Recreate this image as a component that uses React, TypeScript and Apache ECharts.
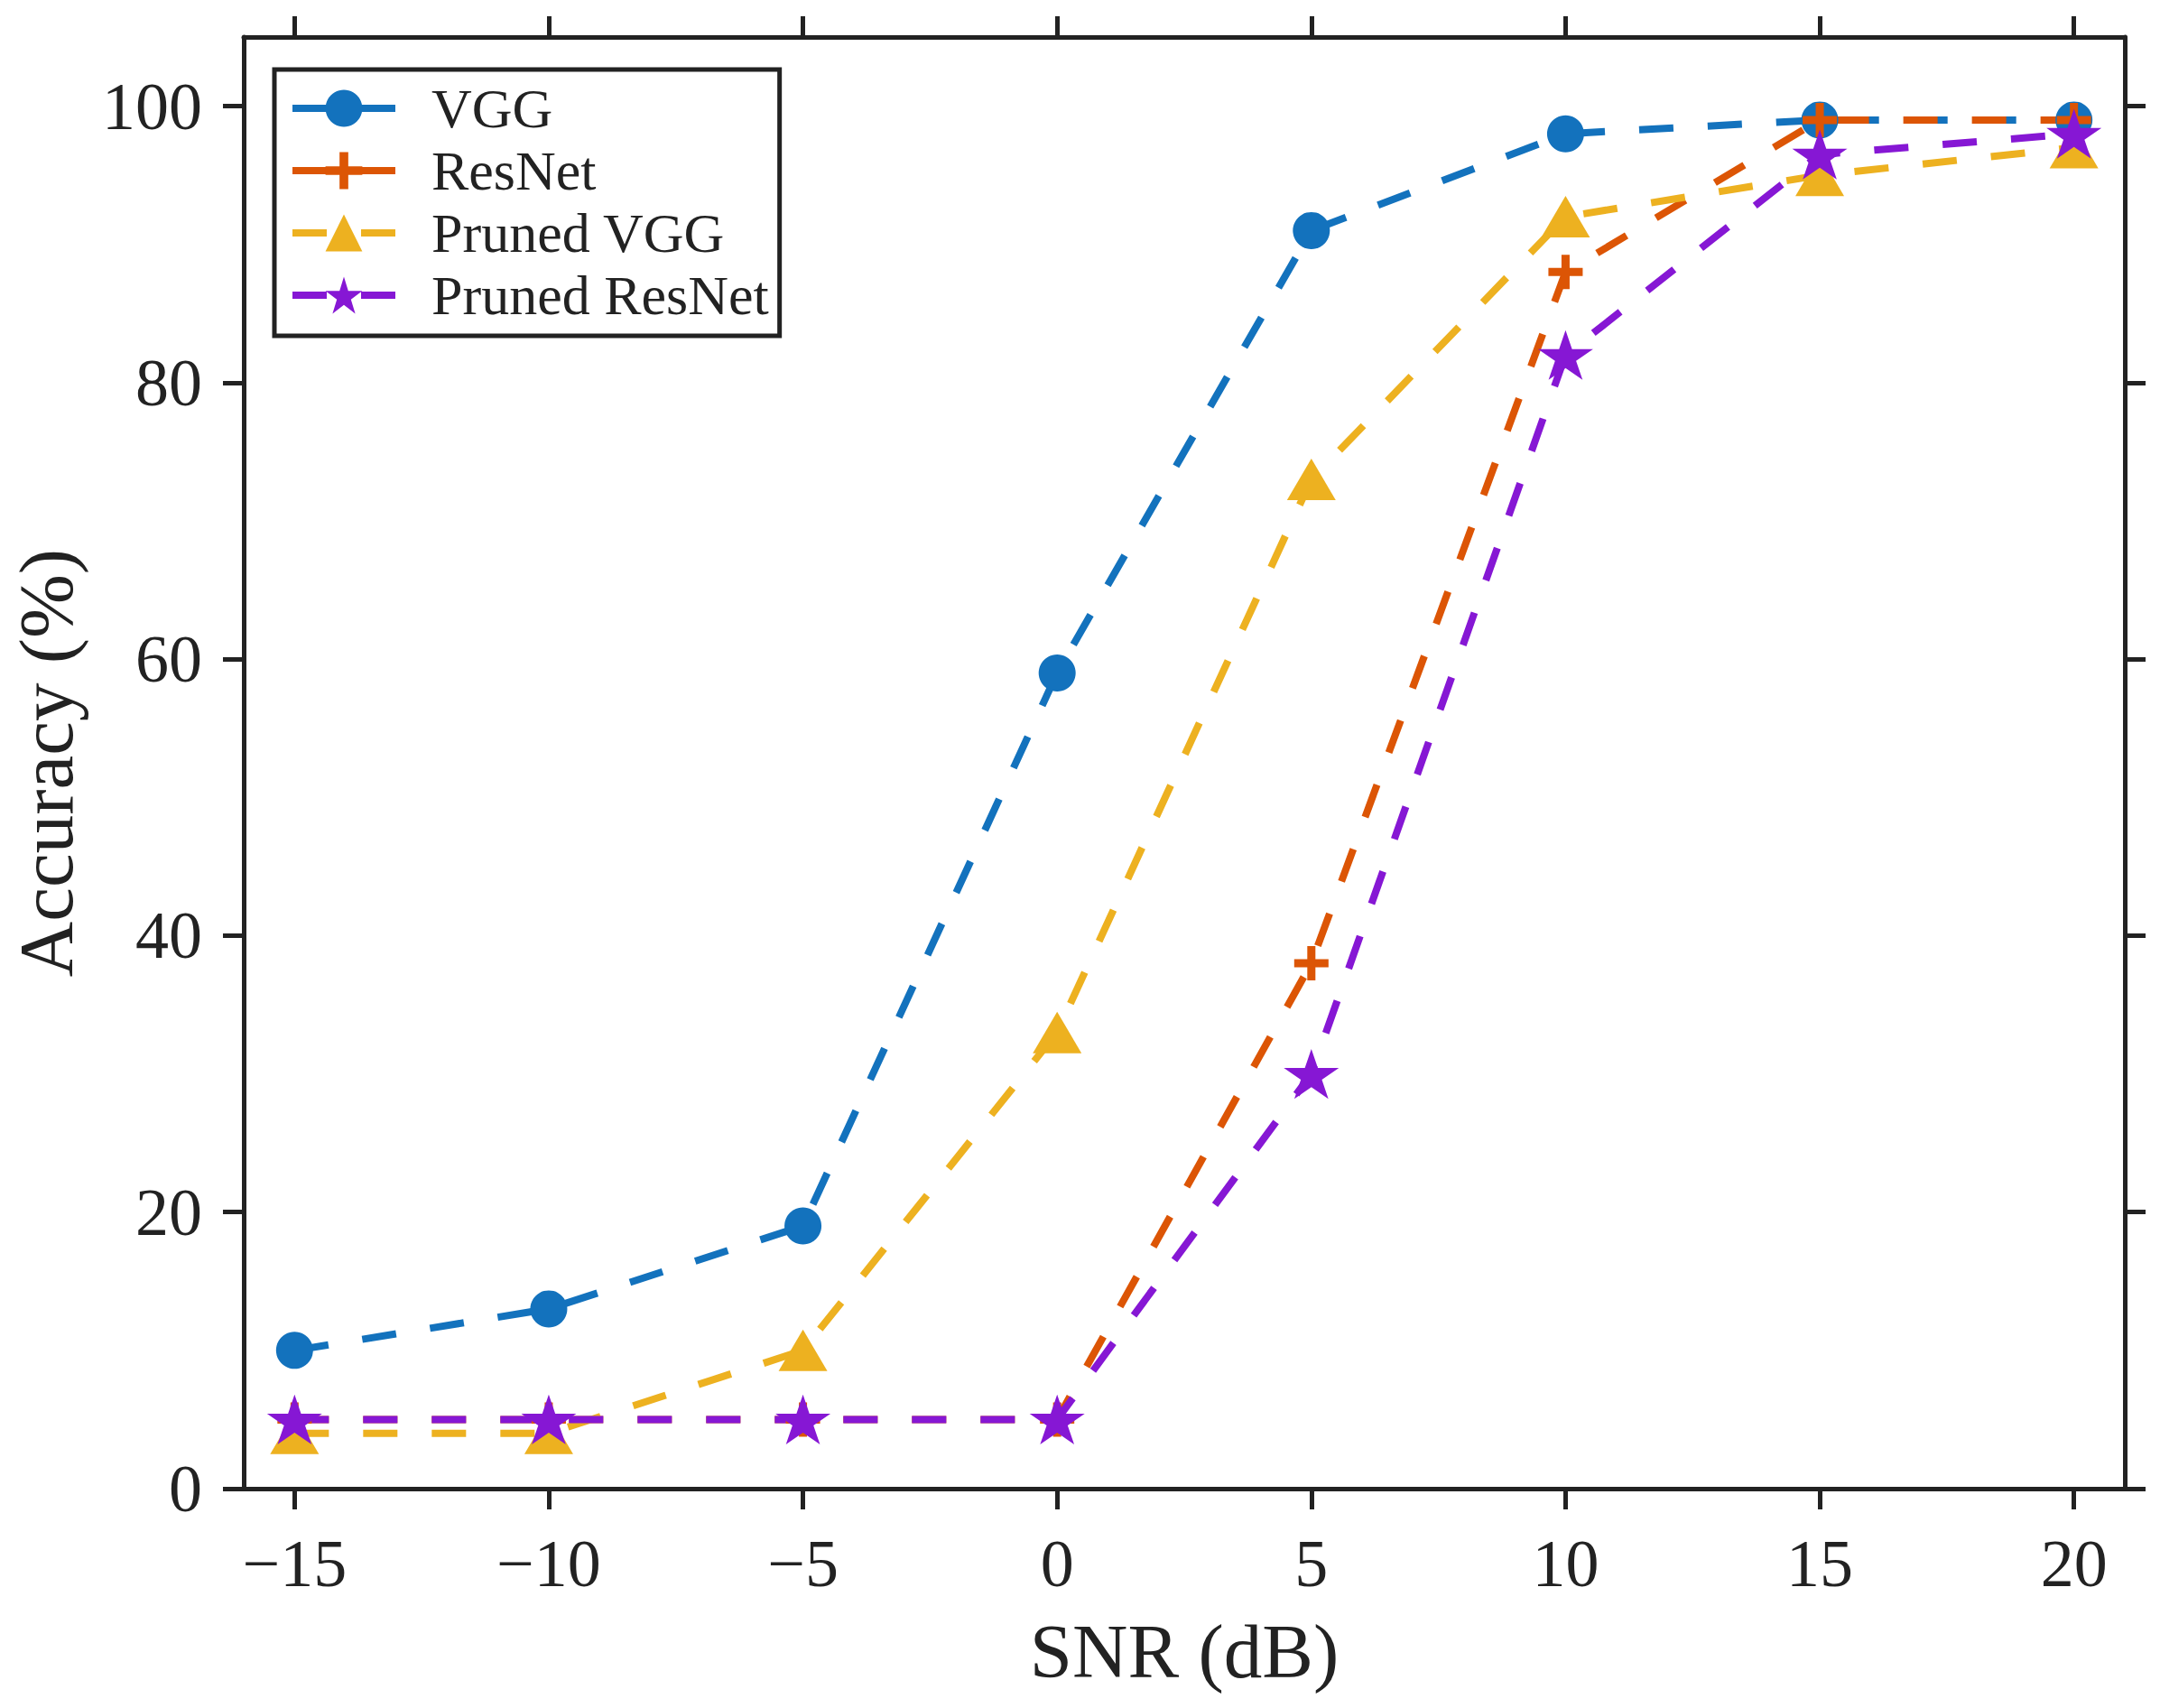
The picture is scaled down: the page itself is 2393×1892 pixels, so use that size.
import * as echarts from "echarts";
import { useEffect, useRef } from "react";

const snr = [-15, -10, -5, 0, 5, 10, 15, 20];
const vgg = [10, 13, 19, 59, 91, 98, 99, 99];
const resnet = [5, 5, 5, 5, 38, 88, 99, 99];
const prunedVgg = [4, 4, 10, 33, 73, 92, 95, 97];
const prunedResnet = [5, 5, 5, 5, 30, 82, 96.5, 98];

const seriesNames = ["VGG", "ResNet", "Pruned VGG", "Pruned ResNet"];
const xTicks = [-15, -10, -5, 0, 5, 10, 15, 20];
const yTicks = [0, 20, 40, 60, 80, 100];

const FONT = "Liberation Serif";
const INK = "#222222";

const plusPath = "path://M14.5,0H23.5V14.5H38V23.5H23.5V38H14.5V23.5H0V14.5H14.5Z";
const starPath =
  "path://M0,-100L22.45,-30.9L95.11,-30.9L36.33,11.8L58.78,80.9L0,38.2L-58.78,80.9L-36.33,11.8L-95.11,-30.9L-22.45,-30.9Z";

const pairs = (ys: number[]) => snr.map((x, i) => [x, ys[i]]);

const mkSeries = (
  name: string,
  ys: number[],
  color: string,
  symbol: string,
  symbolSize: number | number[]
) => ({
  name,
  type: "line",
  data: pairs(ys),
  symbol,
  symbolSize,
  symbolKeepAspect: true,
  showAllSymbol: true,
  color,
  itemStyle: { color, borderWidth: 0 },
  lineStyle: { color, width: 8, type: [38, 38], cap: "butt" },
  emphasis: { disabled: true },
});

const axisCommon = {
  axisLine: { show: true, onZero: false, lineStyle: { color: INK, width: 5 } },
  splitLine: { show: false },
};

const tickStyle = (values: number[]) => ({
  show: true,
  inside: false,
  length: 23,
  customValues: values,
  lineStyle: { color: INK, width: 5 },
});

export default function App() {
  const ref = useRef<HTMLDivElement | null>(null);

  useEffect(() => {
    if (!ref.current) return;
    const chart = echarts.init(ref.current, undefined, { renderer: "svg" });
    chart.setOption({
      animation: false,
      backgroundColor: "#ffffff",
      grid: { left: 269, right: 39, top: 41, bottom: 243, containLabel: false },
      legend: {
        orient: "vertical",
        left: 304,
        top: 77,
        selectedMode: false,
        data: seriesNames,
        backgroundColor: "#ffffff",
        borderColor: INK,
        borderWidth: 5,
        borderRadius: 0,
        padding: [12, 12, 14, 16],
        itemWidth: 114,
        itemHeight: 51,
        itemGap: 7,
        lineStyle: { width: 8, type: [38, 38], cap: "butt" },
        textStyle: {
          fontFamily: FONT,
          fontSize: 62,
          color: INK,
          padding: [0, 0, 0, 35],
        },
      },
      xAxis: [
        {
          ...axisCommon,
          type: "value",
          min: -16,
          max: 21,
          position: "bottom",
          name: "SNR (dB)",
          nameLocation: "middle",
          nameGap: 137,
          nameTextStyle: { fontFamily: FONT, fontSize: 85, color: INK },
          axisTick: tickStyle(xTicks),
          axisLabel: {
            show: true,
            customValues: xTicks,
            margin: 46,
            fontFamily: FONT,
            fontSize: 74,
            color: INK,
            formatter: (v: number) => String(v).replace("-", "\u2212"),
          },
        },
        {
          ...axisCommon,
          type: "value",
          min: -16,
          max: 21,
          position: "top",
          axisTick: tickStyle(xTicks),
          axisLabel: { show: false },
        },
      ],
      yAxis: [
        {
          ...axisCommon,
          type: "value",
          min: 0,
          max: 105,
          position: "left",
          name: "Accuracy (%)",
          nameLocation: "middle",
          nameGap: 177,
          nameRotate: 90,
          nameTextStyle: { fontFamily: FONT, fontSize: 85, color: INK },
          axisTick: tickStyle(yTicks),
          axisLabel: {
            show: true,
            customValues: yTicks,
            margin: 46,
            fontFamily: FONT,
            fontSize: 74,
            color: INK,
          },
        },
        {
          ...axisCommon,
          type: "value",
          min: 0,
          max: 105,
          position: "right",
          axisTick: tickStyle(yTicks),
          axisLabel: { show: false },
        },
      ],
      series: [
        mkSeries(seriesNames[0], vgg, "#1372BD", "circle", 41),
        mkSeries(seriesNames[1], resnet, "#DC5505", plusPath, 38),
        mkSeries(seriesNames[2], prunedVgg, "#EDB120", "triangle", [54, 46]),
        mkSeries(seriesNames[3], prunedResnet, "#8617D4", starPath, [61, 58]),
      ],
    });
    return () => {
      chart.dispose();
    };
  }, []);

  return (
    <div
      ref={ref}
      style={{ position: "absolute", left: 0, top: 0, width: 2393, height: 1892 }}
    />
  );
}
